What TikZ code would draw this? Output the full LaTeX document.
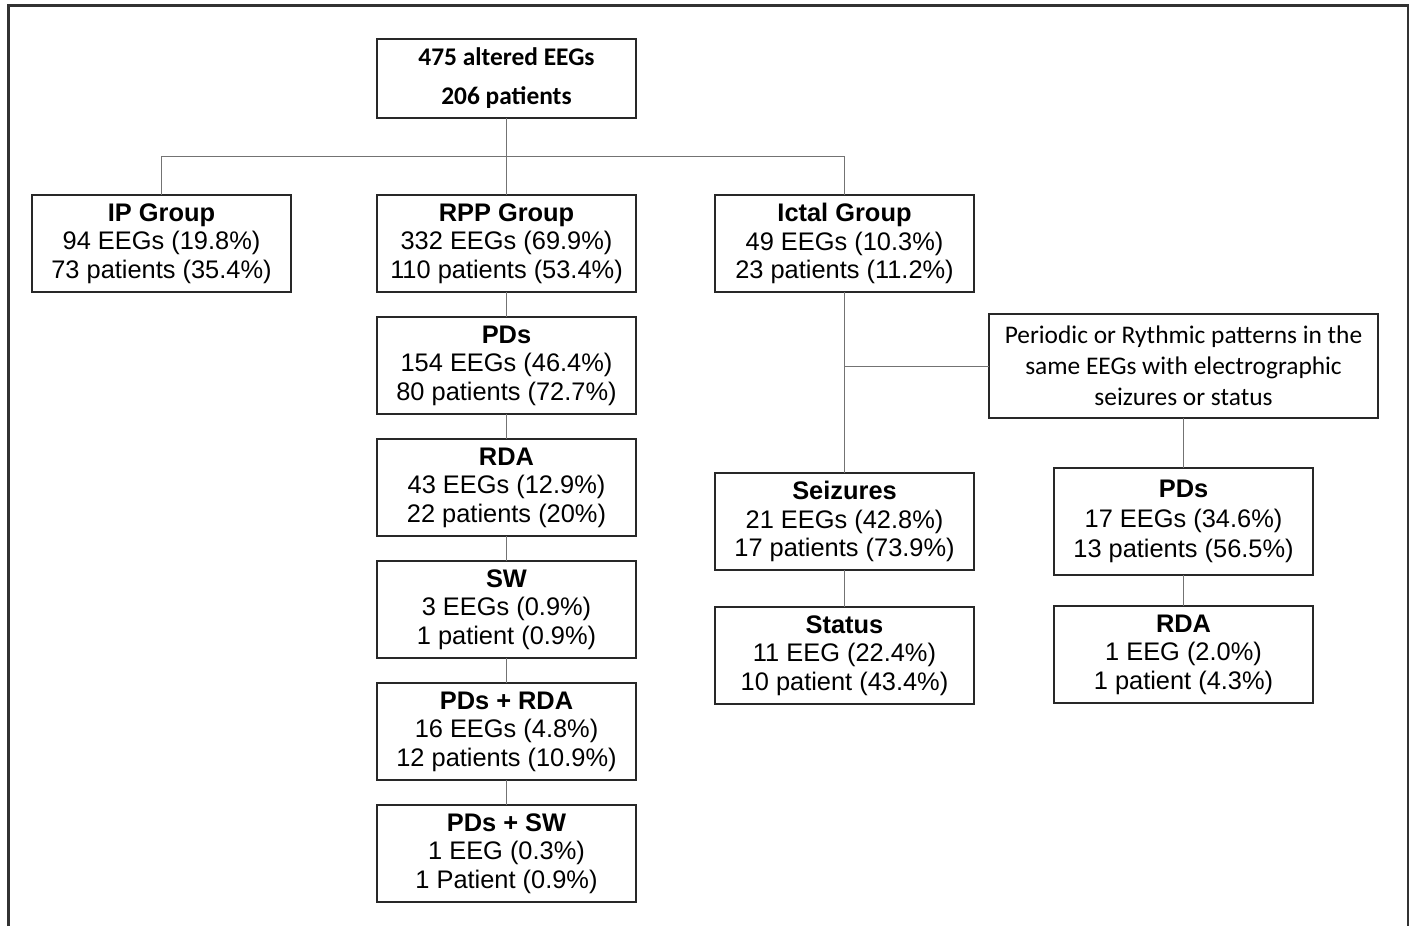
\documentclass[tikz,border=0pt]{standalone}
\usepackage{fontspec}
\setmainfont{Liberation Sans}
\newfontfamily\calfont{Carlito}
\usetikzlibrary{positioning}
\usetikzlibrary{calc}
\definecolor{boxline}{RGB}{40,40,40}
\definecolor{linkgray}{RGB}{115,115,115}
\definecolor{framegray}{RGB}{50,50,50}
\newcommand\grp[3]{\textbf{#1}\\#2\\#3}
\tikzset{
	box/.style={rectangle, draw=boxline, line width=0.75pt, fill=white, outer sep=0pt,
		minimum width=129.5pt, minimum height=48.5pt, inner sep=1pt, align=center,
		font=\fontsize{12.7}{14.3}\selectfont},
	calbox/.style={box, font=\calfont\fontsize{12.7}{15.5}\selectfont},
	link/.style={draw=linkgray, line width=0.5pt},
}
\begin{document}
\begin{tikzpicture}[x=0.5pt, y=-0.5pt, node distance = 12.5pt and 12.5pt]
		\useasboundingbox (0,0) rectangle (1411,926);
		
		% outer frame (open at the bottom)
		\draw[framegray, line width=1.2pt] (8.5,926) -- (8.5,5.5) -- (1408,5.5) -- (1408,926);
		
		% root box - used as relative position start point
		\node[box, minimum height=39.5pt, font=\calfont\bfseries\fontsize{12.7}{19.5}\selectfont] (root) at (506.5,78.5) {475 altered EEGs\\206 patients};
		
		% the three groups
		\node[box, below = 38.5pt of root] (RPP) {\grp{RPP Group}{332 EEGs (69.9\%)}{110 patients (53.4\%)}};
		\node[box, left = 43pt of RPP] (IP) {\grp{IP Group}{94 EEGs (19.8\%)}{73 patients (35.4\%)}};
		\node[box, right = 39.5pt of RPP] (Ictal) {\grp{Ictal Group}{49 EEGs (10.3\%)}{23 patients (11.2\%)}};
		
		% RPP column
		\node[box, below = of RPP] (PDs) {\grp{PDs}{154 EEGs (46.4\%)}{80 patients (72.7\%)}};
		\node[box, below = of PDs] (RDA) {\grp{RDA}{43 EEGs (12.9\%)}{22 patients (20\%)}};
		\node[box, below = of RDA] (SW) {\grp{SW}{3 EEGs (0.9\%)}{1 patient (0.9\%)}};
		\node[box, below = of SW] (PDsRDA) {\grp{PDs + RDA}{16 EEGs (4.8\%)}{12 patients (10.9\%)}};
		\node[box, below = of PDsRDA] (PDsSW) {\grp{PDs + SW}{1 EEG (0.3\%)}{1 Patient (0.9\%)}};
		
		% ictal column
		\node[box, below = 90.5pt of Ictal] (Seiz) {\grp{Seizures}{21 EEGs (42.8\%)}{17 patients (73.9\%)}};
		\node[box, below = 18.5pt of Seiz] (Status) {\grp{Status}{11 EEG (22.4\%)}{10 patient (43.4\%)}};
		
		% patterns together with seizures
		\node[calbox, minimum width=194.5pt, minimum height=52pt] (Patt) at (1183.5,366) {Periodic or Rythmic patterns in the\\same EEGs with electrographic\\seizures or status};
		\node[box, minimum height=53.5pt, font=\fontsize{12.7}{15}\selectfont] (PDsB) at (1183.5,521.5) {\grp{PDs}{17 EEGs (34.6\%)}{13 patients (56.5\%)}};
		\node[box, below = 15.5pt of PDsB] (RDAB) {\grp{RDA}{1 EEG (2.0\%)}{1 patient (4.3\%)}};
		
		% split point and join point
		\coordinate (hub) at ($(root.south)!0.5!(RPP.north)$);
		\coordinate (join) at (Ictal.south |- Patt.west);
		
		% draw connectors
		\draw[link] (root.south) -- (RPP.north);
		\draw[link] (IP.north) |- (hub) -| (Ictal.north);
		\foreach \from/\to in {RPP/PDs, PDs/RDA, RDA/SW, SW/PDsRDA, PDsRDA/PDsSW, Ictal/Seiz, Seiz/Status, Patt/PDsB, PDsB/RDAB}
		{
			\draw[link] (\from.south) -- (\to.north);
		}
		\draw[link] (Patt.west) -- (join);
		
	\end{tikzpicture}
\end{document}
